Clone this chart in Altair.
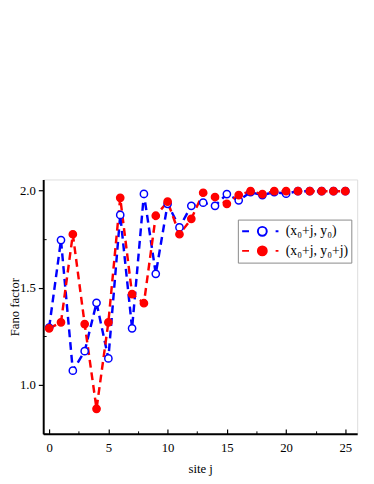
import altair as alt
import pandas as pd

sites = list(range(26))
blue_vals = [1.295, 1.744, 1.074, 1.174, 1.422, 1.137, 1.873, 1.291, 1.981, 1.571,
             1.93, 1.809, 1.92, 1.936, 1.92, 1.98, 1.948, 1.99, 1.975, 1.99,
             1.982, 1.995, 1.995, 1.995, 1.995, 1.995]
red_vals = [1.291, 1.322, 1.774, 1.313, 0.878, 1.322, 1.961, 1.467, 1.42, 1.869,
            1.941, 1.774, 1.853, 1.987, 1.965, 1.93, 1.975, 1.995, 1.98, 1.995,
            1.995, 1.995, 1.995, 1.995, 1.995, 1.995]
series_names = ["(x\u2080+j, y\u2080)", "(x\u2080+j, y\u2080+j)"]
x_major = [0, 5, 10, 15, 20, 25]
x_minor = [2.5, 7.5, 12.5, 17.5, 22.5]
y_major = [1.0, 1.5, 2.0]
y_minor = [0.75, 1.25, 1.75]

df = pd.DataFrame({
    "j": sites + sites,
    "F": blue_vals + red_vals,
    "series": [series_names[0]] * 26 + [series_names[1]] * 26,
})

FONT = "Liberation Serif"
xs = alt.Scale(domain=[-0.5, 26], nice=False, zero=False)
ys = alt.Scale(domain=[0.75, 2.055], nice=False, zero=False)

dash = [8, 5]
sym = "M-1,0H-0.66M-0.22,0A0.22,0.22 0 1,1 0.22,0A0.22,0.22 0 1,1 -0.22,0M0.66,0H0.8"

leg = alt.Legend(title=None, orient="none", legendX=199, legendY=41,
                 symbolType=sym, symbolSize=1700, symbolStrokeWidth=2,
                 labelFont=FONT, labelFontSize=14, labelColor="black",
                 labelOffset=2, padding=3, rowPadding=2, clipHeight=18,
                 strokeColor="#888888", fillColor="white", labelLimit=200)

base = alt.Chart(df)

blue_line = base.transform_filter(alt.datum.series == series_names[0]).mark_line(
    strokeWidth=2.5, strokeDash=dash, color="#0000FF"
).encode(
    x=alt.X("j:Q", scale=xs, axis=alt.Axis(
        values=x_major, title="site j", tickSize=0, labelPadding=8, domainWidth=2,
        domainColor="black", labelFont=FONT, labelFontSize=13, titleFont=FONT,
        titleFontSize=13, titleFontWeight="normal", titlePadding=9, grid=False,
        labelColor="black", titleColor="black", orient="bottom")),
    y=alt.Y("F:Q", scale=ys, axis=alt.Axis(
        values=y_major, title="Fano factor", tickSize=5, labelPadding=3, domainWidth=2,
        domainColor="black", tickColor="black", tickWidth=1.2, format=".1f",
        labelFont=FONT, labelFontSize=13, titleFont=FONT, titleFontSize=13,
        titleFontWeight="normal", titleX=-22, titleY=130, grid=False, labelColor="black",
        titleColor="black", orient="left")),
)

red_line = base.transform_filter(alt.datum.series == series_names[1]).mark_line(
    strokeWidth=2.5, strokeDash=dash, color="#FF0000"
).encode(
    x=alt.X("j:Q", scale=xs, axis=alt.Axis(
        values=x_minor, title=None, labels=False, domain=False, tickSize=3,
        offset=-3, tickColor="black", tickWidth=1, grid=False, orient="bottom")),
    y=alt.Y("F:Q", scale=ys, axis=alt.Axis(
        values=y_minor, title=None, labels=False, domain=False, tickSize=3,
        offset=-3, tickColor="black", tickWidth=1, grid=False, orient="left")),
)

points = base.mark_point(size=55, strokeWidth=1.5, opacity=1, filled=False, shape="circle").encode(
    x=alt.X("j:Q", scale=xs, axis=alt.Axis(
        values=x_major, title=None, labels=False, domain=False, tickSize=5,
        offset=-5, tickColor="black", tickWidth=1.2, grid=False, orient="bottom")),
    y=alt.Y("F:Q", scale=ys, axis=None),
    stroke=alt.Stroke("series:N", scale=alt.Scale(domain=series_names, range=["#0000FF", "#FF0000"]),
                      legend=leg),
    fill=alt.Fill("series:N", scale=alt.Scale(domain=series_names, range=["white", "#FF0000"]),
                  legend=leg),
    order=alt.Order("series:N"),
)

chart = alt.layer(blue_line, red_line, points).resolve_axis(
    x="independent", y="independent"
).properties(
    width=321, height=260,
    autosize=alt.AutoSizeParams(type="none"),
    padding={"left": 36, "top": 170, "right": 9, "bottom": 46},
).configure_view(stroke="#333333", strokeWidth=1).configure(background="white")

chart.save("out.html", embed_options={"renderer": "svg", "actions": False})
